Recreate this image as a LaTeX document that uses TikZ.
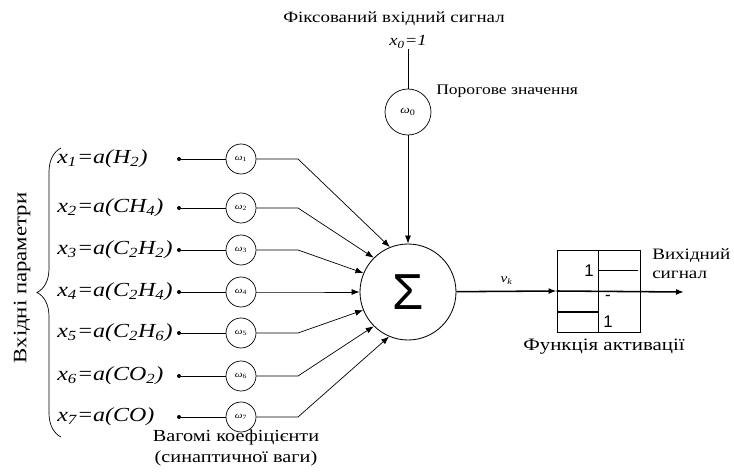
\documentclass[tikz,border=0pt]{standalone}
\usepackage{fontspec}
\setmainfont{Liberation Serif}[FakeStretch=1.2]
\newfontfamily\sumfont{Liberation Sans}
\usetikzlibrary{arrows.meta,positioning,decorations.pathreplacing}
\tikzset{
    sumnode/.style={circle, draw, line width=0.6pt, minimum size=24mm, inner sep=0pt, font=\sumfont\fontsize{36}{38}\selectfont},
    weight/.style={circle, draw, line width=0.5pt, minimum size=7.5mm, inner sep=0pt, font=\fontsize{6.5}{8}\selectfont},
    dot/.style={circle, fill, inner sep=0pt, minimum size=1mm},
    inlbl/.style={anchor=west, inner sep=0pt, font=\fontsize{14.2}{16}\selectfont\itshape},
    txt/.style={font=\fontsize{11.5}{14}\selectfont, align=center, inner sep=0pt},
    stepnum/.style={font=\sumfont\fontsize{12}{14}\selectfont, inner sep=0pt},
    arr/.style={line width=0.5pt, -{Latex[length=2mm, width=1.5mm]}},
    actbox/.style={rectangle, draw, line width=0.6pt, minimum width=20.75mm, minimum height=20.5mm, inner sep=0pt}
}

\begin{document}
\begin{tikzpicture}[x=0.25mm, y=-0.25mm]
    \useasboundingbox (0,0) rectangle (734,473);

    % summator and threshold
    \node[sumnode] (sum) at (408,292) {Σ};
    \node[txt, font=\fontsize{11.2}{13}\selectfont] (fixed) at (394,19) {Фіксований вхідний сигнал};
    \node[txt, font=\fontsize{11}{13}\selectfont\itshape] (x0) at (408,42) {x\textsubscript{0}=1};
    \node[weight, minimum size=11.5mm, font=\fontsize{8}{9}\selectfont] (w0) at (408,112) {\textit{ω}\textsubscript{0}};
    \node[txt, anchor=west, font=\fontsize{10.4}{12}\selectfont] (thr) at (436,91) {Порогове значення};
    \draw[line width=0.5pt] (x0.south -| w0) -- (w0);
    \draw[arr] (w0) -- (sum);

    % input parameters x1..x7
    \foreach \i/\y/\a/\lab in {
        1/159/112.5/{x\textsubscript{1}=a(H\textsubscript{2})},
        2/208/135/{x\textsubscript{2}=a(CH\textsubscript{4})},
        3/250/157.5/{x\textsubscript{3}=a(C\textsubscript{2}H\textsubscript{2})},
        4/292/180/{x\textsubscript{4}=a(C\textsubscript{2}H\textsubscript{4})},
        5/333/202.5/{x\textsubscript{5}=a(C\textsubscript{2}H\textsubscript{6})},
        6/376/225/{x\textsubscript{6}=a(CO\textsubscript{2})},
        7/417/247.5/{x\textsubscript{7}=a(CO)}}{
        \node[inlbl] (x\i) at (57,\y) {\lab};
        \node[dot] (d\i) at (179,\y) {};
        \node[weight] (w\i) at (241,\y) {\textit{ω}\textsubscript{\i}};
        \coordinate (b\i) at (298,\y);
        \draw[line width=0.5pt] (d\i) -- (w\i);
        \draw[arr] (w\i) -- (b\i) -- (sum.\a);
    }

    % brace over the inputs
    \draw[line width=0.5pt, decorate, decoration={brace, amplitude=6mm}] (61,437) -- (61,148);
    \node[txt, rotate=90, font=\fontsize{13.5}{15}\selectfont] (inp) at (22,278) {Вхідні параметри};
    \node[txt, font=\fontsize{12}{15.5}\selectfont] (wts) at (236,448) {Вагомі коефіцієнти\\(синаптичної ваги)};

    % activation function
    \node[actbox] (act) at (598.5,291) {};
    \coordinate (out) at (684,292);
    \draw[arr, line width=1.1pt] (sum) -- node[above=1pt, font=\fontsize{9}{10}\selectfont\itshape] (vk) {v\textsubscript{k}} (act.west);
    \draw[arr, line width=1.1pt] (act.west) -- (out);
    \draw[line width=0.6pt] (act.north) -- (act.south);
    \draw[line width=1pt] ([yshift=-5.25mm]act.north) -- ++(9.75mm,0);
    \draw[line width=1pt] ([yshift=-5.25mm]act.west) -- ++(10.5mm,0);
    \node[stepnum] (one) at (589,271) {1};
    \node[stepnum] (minus) at (608,298) {-};
    \node[stepnum] (mone) at (608,322) {1};
    \node[txt, anchor=north west, align=left, font=\fontsize{11.3}{14}\selectfont] (outlbl) at (652,248) {Вихідний\\сигнал};
    \node[txt, font=\fontsize{12.4}{14}\selectfont] (actlbl) at (604,347) {Функція активації};
\end{tikzpicture}
\end{document}
